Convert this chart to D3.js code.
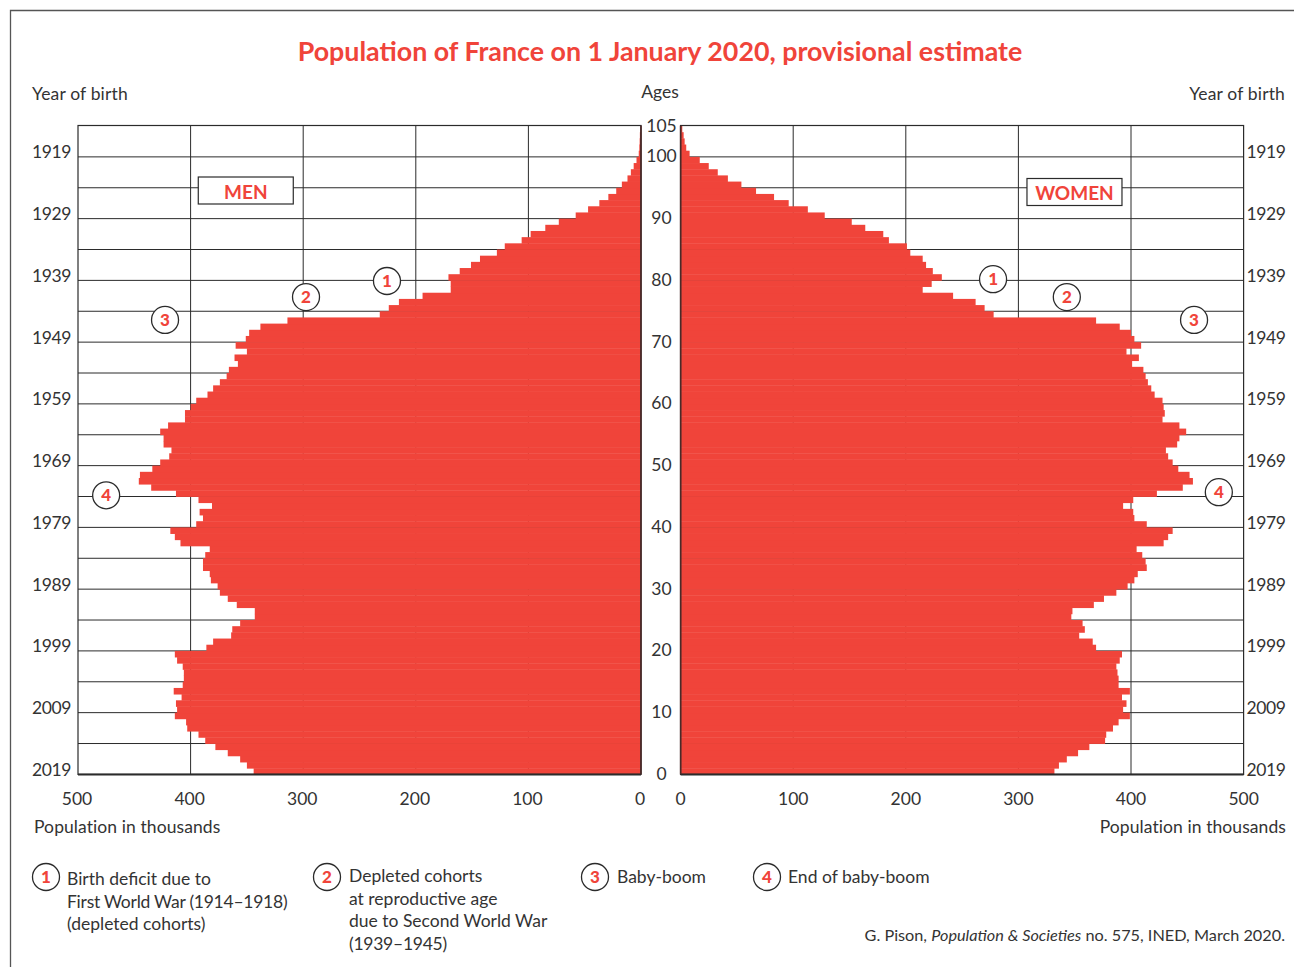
<!DOCTYPE html>
<html><head><meta charset="utf-8">
<script src="https://cdn.jsdelivr.net/npm/d3@7/dist/d3.min.js"></script>
<style>
html,body{margin:0;padding:0;background:#fff;overflow:hidden}
svg{display:block}
text{font-family:Lato,"Open Sans",sans-serif;fill:#333}
</style></head><body>
<svg id="c" width="1294" height="967"></svg>
<script>
// population in thousands, index = age in completed years (0..104)
const menValues = [344,350,356,367,378,387,393,403,404,414,
412,413,408,415,407,406,406,407,412,414,
386,380,364,363,356,343,343,359,367,374,
376,382,383,389,389,387,383,409,414,418,
395,389,392,381,393,413,435,446,445,434,
427,419,417,424,424,427,420,405,405,400,
395,385,380,374,368,366,358,361,350,360,
351,348,338,314,232,224,215,194,169,169,
171,161,151,143,128,121,106,98,85,73,
58,47,37,29,22,17,12,9,6.5,4,
2,1.5,1.2,1,0.5];
const womenValues = [332,336,343,353,363,377,378,384,389,399,
393,396,392,399,389,389,388,387,390,392,
369,366,354,359,357,347,348,367,376,387,
397,403,406,414,413,410,405,429,433,437,
414,403,402,393,402,423,446,455,452,442,
437,433,431,441,443,449,443,428,430,429,
428,421,418,415,413,411,401,407,396,409,
403,400,390,369,278,270,262,242,215,223,
232,224,218,215,204,201,185,180,164,152,
128,113,96,83,67,54,42,33,25,17,
8,5,3.6,2.7,1.5];
const ageTicks = [0,10,20,30,40,50,60,70,80,90,100,105];
const gridAges = d3.range(5,105,5);
const birthYearAges = d3.range(0,101,10);
const popTicks = [0,100,200,300,400,500];
const gridPops = [100,200,300,400];
const titleText = "Population of France on 1 January 2020, provisional estimate";
// annotation markers: [label, population, age]
const menNotes = [["1",225.6,79.9],["2",297.5,77.3],["3",422.7,73.6],["4",475,45.2]];
const womenNotes = [["1",277.5,80.2],["2",343,77.3],["3",456,73.6],["4",478,45.7]];
const legendItems = [
  {n:"1",x:46,y:877,tx:67,ty:885,lines:["Birth deficit due to","First World War (1914–1918)","(depleted cohorts)"]},
  {n:"2",x:327,y:877,tx:349,ty:882,lines:["Depleted cohorts","at reproductive age","due to Second World War","(1939–1945)"]},
  {n:"3",x:595,y:877,tx:617,ty:883,lines:["Baby-boom"]},
  {n:"4",x:767,y:877,tx:788,ty:883,lines:["End of baby-boom"]}
];

const RED="#f0443a", INK="#333", LINE="#2b2b2b";
const svg=d3.select("#c");
const plotTop=125.5,plotBottom=774.4;
const xM=d3.scaleLinear().domain([0,500]).range([641,78]);
const xW=d3.scaleLinear().domain([0,500]).range([680.6,1243.6]);
const y=d3.scaleLinear().domain([0,105]).range([plotBottom,126]);

// outer frame
svg.append("path").attr("d","M10.5,967V10.5H1294").attr("fill","none").attr("stroke","#555").attr("stroke-width",1.3);

function panel(x,vals,cls,lx){
  const g=svg.append("g").attr("class",cls);
  const [x0,x1]=x.range();
  // grid
  g.selectAll("line.h").data(gridAges).join("line").attr("class","h")
    .attr("x1",x0).attr("x2",x1).attr("y1",d=>y(d)).attr("y2",d=>y(d))
    .attr("stroke",LINE).attr("stroke-width",1);
  g.selectAll("line.v").data(gridPops).join("line").attr("class","v")
    .attr("x1",d=>x(d)).attr("x2",d=>x(d)).attr("y1",plotTop).attr("y2",plotBottom)
    .attr("stroke",LINE).attr("stroke-width",1);
  // bars (small overlap keeps the seams between neighbours faint)
  g.selectAll("rect").data(vals).join("rect")
    .attr("x",d=>Math.min(x(0),x(d))).attr("width",d=>Math.abs(x(d)-x(0)))
    .attr("y",(d,i)=>y(i+1)).attr("height",(d,i)=>y(i)-y(i+1)+0.4)
    .attr("fill",RED);
  // frame
  g.append("rect").attr("x",Math.min(x0,x1)).attr("y",plotTop).attr("width",Math.abs(x1-x0)).attr("height",plotBottom-plotTop)
    .attr("fill","none").attr("stroke",LINE).attr("stroke-width",1.2);
  g.append("line").attr("x1",x0).attr("x2",x1).attr("y1",plotBottom).attr("y2",plotBottom).attr("stroke",LINE).attr("stroke-width",2);
  g.append("line").attr("x1",x0).attr("x2",x0).attr("y1",plotTop).attr("y2",plotBottom).attr("stroke","#4a2a28").attr("stroke-width",1.6);
  // population axis
  const ax=g.append("g").attr("transform",`translate(${lx},${plotBottom+1.4})`)
    .call(d3.axisBottom(x).tickValues(popTicks).tickSize(0).tickPadding(17));
  ax.select(".domain").remove();
  ax.selectAll("text").attr("font-size",17.5).style("fill",INK).style("font-family","Lato");
}
panel(xM,menValues,"men",-1.5);
panel(xW,womenValues,"women",-0.5);

// age axis (centre)
const ageAxis=svg.append("g").attr("transform","translate(661,-0.6)")
  .call(d3.axisRight(y).tickValues(ageTicks).tickSize(0).tickPadding(0).tickFormat(d3.format("d")));
ageAxis.select(".domain").remove();
ageAxis.selectAll("text").attr("text-anchor","middle").attr("x",0.5).attr("font-size",17.5).style("fill",INK).style("font-family","Lato");

// year of birth axes
const yearFmt=a=>String(2019-a);
const yl=svg.append("g").attr("transform","translate(71,-4.6)")
  .call(d3.axisLeft(y).tickValues(birthYearAges).tickSize(0).tickPadding(0).tickFormat(yearFmt));
const yr=svg.append("g").attr("transform","translate(1246.5,-4.6)")
  .call(d3.axisRight(y).tickValues(birthYearAges).tickSize(0).tickPadding(0).tickFormat(yearFmt));
[yl,yr].forEach(a=>{a.select(".domain").remove();a.selectAll("text").attr("font-size",17.5).style("fill",INK).style("font-family","Lato").style("letter-spacing","-0.4px");});

// title & labels
svg.append("text").attr("x",660).attr("y",61).attr("text-anchor","middle").attr("font-size",26.8)
  .attr("font-weight",700).style("fill",RED).text(titleText);
const lab=(t,x,yy,a,ls)=>svg.append("text").attr("x",x).attr("y",yy).attr("text-anchor",a||"start").attr("font-size",17.5).style("letter-spacing",(ls||0)+"px").text(t);
lab("Year of birth",32,100,"start",0.15);
lab("Ages",660,98,"middle");
lab("Year of birth",1285,100,"end",0.15);
lab("Population in thousands",34,833,"start",0.08);
lab("Population in thousands",1286,833,"end",0.08);

// MEN / WOMEN boxes
[["MEN",xM,351],["WOMEN",xW,349.8]].forEach(([t,x,v])=>{
  const cx=x(v), w=95, h=27, cy=t==="MEN"?190.5:192;
  svg.append("rect").attr("x",cx-w/2).attr("y",cy-h/2).attr("width",w).attr("height",h)
    .attr("fill","#fff").attr("stroke",LINE).attr("stroke-width",1.2);
  svg.append("text").attr("x",cx).attr("y",t==="MEN"?199:199.5).attr("text-anchor","middle").attr("font-size",19)
    .attr("font-weight",700).style("fill",RED).text(t);
});

function badge(n,cx,cy){
  svg.append("circle").attr("cx",cx).attr("cy",cy).attr("r",13.5).attr("fill","#fff").attr("stroke",LINE).attr("stroke-width",1.3);
  svg.append("text").attr("x",cx).attr("y",cy+6).attr("text-anchor","middle").attr("font-size",17)
    .attr("font-weight",900).style("fill",RED).text(n);
}
menNotes.forEach(([n,v,a])=>badge(n,xM(v),y(a)));
womenNotes.forEach(([n,v,a])=>badge(n,xW(v),y(a)));

// legend
legendItems.forEach(d=>{
  badge(d.n,d.x,d.y);
  d.lines.forEach((l,i)=>lab(l,d.tx,d.ty+i*22.5,"start",/\d/.test(l)?-0.25:0));
});

// source
const src=svg.append("text").attr("x",1285).attr("y",941).attr("text-anchor","end").attr("font-size",16.25);
src.append("tspan").text("G. Pison, ");
src.append("tspan").attr("font-style","italic").text("Population & Societies");
src.append("tspan").text(" no. 575, INED, March 2020.");
</script>
</body></html>
